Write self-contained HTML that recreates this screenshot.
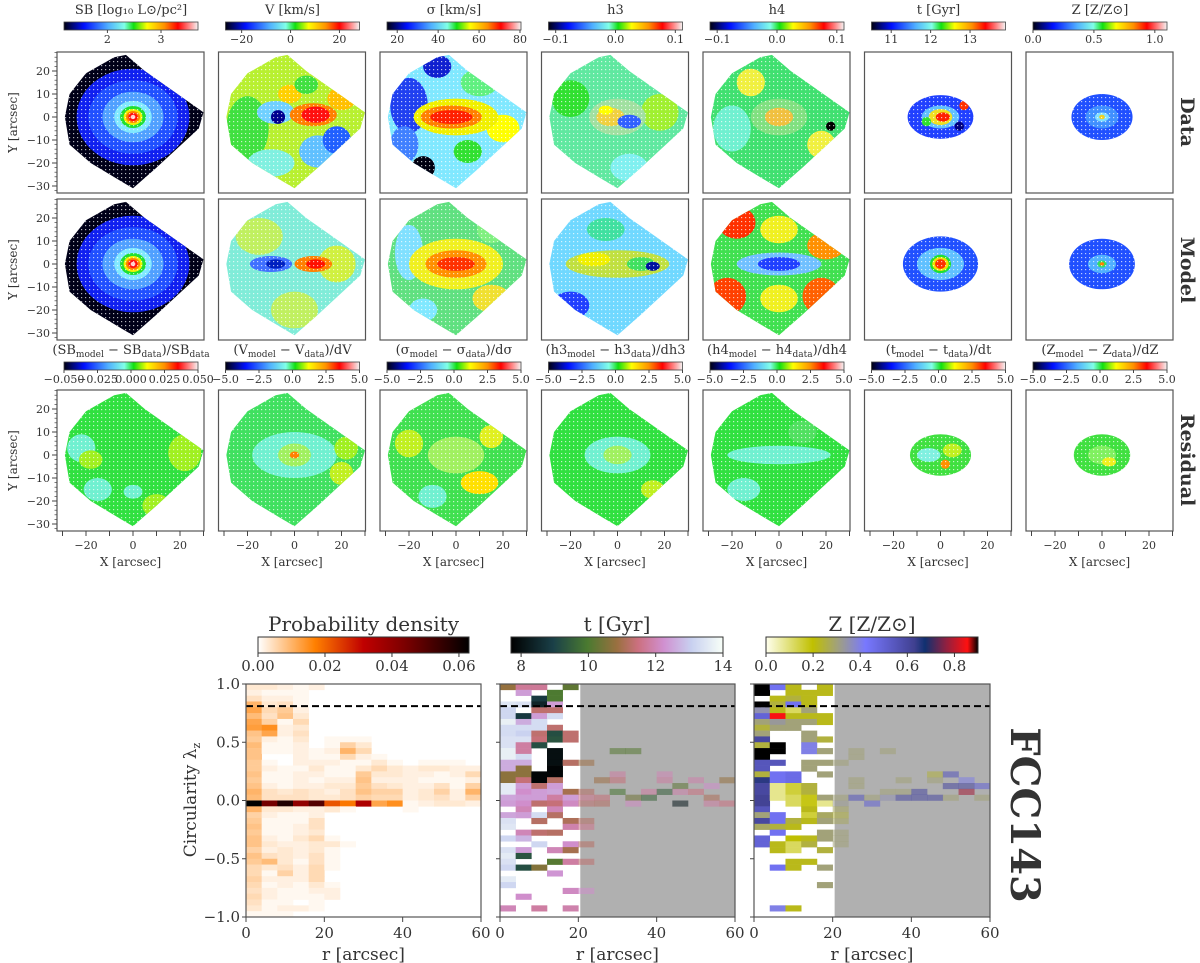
<!DOCTYPE html>
<html><head><meta charset="utf-8">
<style>
html,body{margin:0;padding:0;background:#fff;}
svg{display:block;}
text{font-family:"DejaVu Serif","Liberation Serif",serif;fill:#333;}
</style></head>
<body>
<svg id="fig" width="1200" height="963" viewBox="0 0 1200 963" xmlns="http://www.w3.org/2000/svg">
<defs>
<linearGradient id="gJet" x1="0" x2="1" y1="0" y2="0">
<stop offset="0" stop-color="#000010"/><stop offset="0.15" stop-color="#0010ff"/><stop offset="0.33" stop-color="#50b0ff"/><stop offset="0.45" stop-color="#80ffe8"/><stop offset="0.52" stop-color="#10e010"/><stop offset="0.62" stop-color="#ffff00"/><stop offset="0.75" stop-color="#ff9000"/><stop offset="0.85" stop-color="#ff0000"/><stop offset="0.94" stop-color="#ff9090"/><stop offset="1" stop-color="#f4f4f4"/>
</linearGradient>
<linearGradient id="gHeat" x1="0" x2="1" y1="0" y2="0">
<stop offset="0" stop-color="#ffffff"/><stop offset="0.27" stop-color="#ff8000"/><stop offset="0.5" stop-color="#c00000"/><stop offset="0.7" stop-color="#7a0000"/><stop offset="1" stop-color="#000000"/>
</linearGradient>
<linearGradient id="gAge" x1="0" x2="1" y1="0" y2="0">
<stop offset="0" stop-color="#000000"/><stop offset="0.2" stop-color="#1a4048"/><stop offset="0.36" stop-color="#4a7a30"/><stop offset="0.5" stop-color="#9a7040"/><stop offset="0.6" stop-color="#cc7080"/><stop offset="0.72" stop-color="#d090d0"/><stop offset="0.85" stop-color="#c8d0f0"/><stop offset="1" stop-color="#f8fff8"/>
</linearGradient>
<linearGradient id="gZ" x1="0" x2="1" y1="0" y2="0">
<stop offset="0" stop-color="#ffffee"/><stop offset="0.22" stop-color="#c0c000"/><stop offset="0.34" stop-color="#a0a080"/><stop offset="0.47" stop-color="#7878ff"/><stop offset="0.7" stop-color="#404090"/><stop offset="0.75" stop-color="#103070"/><stop offset="0.85" stop-color="#902040"/><stop offset="0.95" stop-color="#ff1010"/><stop offset="1" stop-color="#000000"/>
</linearGradient>
<pattern id="dots" width="4" height="4" patternUnits="userSpaceOnUse"><rect x="1" y="1" width="1.2" height="1.2" fill="#fff" opacity="0.7"/></pattern>
</defs>
</svg>
<script>
// ---------- bottom chart data ----------
// probability density (x1e-3), rows from lambda=1.0 downward (bin width 0.05), cols r=0..60 step 4
const densRows = [
[3,3,2,1,2],[2,1,1,1],[4,2,2,1],[10,3,4,1],[12,5,7,2],[9,4,8,3],[12,6,1,5],[13,15,2,3],[8,12,2,4],
[7,2,1,3,0,1,1,1],[9,1,1,2,0,1,6,3],[8,1,1,2,1,2,10,5],[8,0,0,2,1,1,5,2,1],
[7,1,0,2,2,2,1,1,3,1,0,1,1,1,0],[7,2,1,1,3,1,1,3,5,3,2,3,3,2,2],[8,1,1,2,2,1,1,7,3,3,2,2,1,2,5],
[7,1,1,2,1,2,2,8,2,2,2,1,1,1,2],[8,2,1,2,2,3,3,7,4,3,2,2,4,1,6],[10,4,3,4,3,2,4,8,6,6,2,3,6,2,10],
[9,4,4,4,3,3,4,6,5,5,2,3,4,2,6],
[63,45,58,40,50,22,18,35,12,15,1,2,3,3,2],
[10,3,3,2,2,3,1,0,0,0,1],[6,2,1,1,2,0],[7,1,1,1,4],[8,1,1,2,4],[7,1,1,2,3],[8,2,1,3,5,1],
[8,3,2,2,3,3,1],[6,2,3,2,3,1],[8,4,3,2,4,1],[7,9,3,1,4,1],[5,3,4,2,5,1],[5,1,6,2,5],[6,2,2,2,5],
[5,1,2,1,3,1],[4,2,1,1,2,2],[5,2,1,1,1,2],[4,1,1,0,1],[3,1,2,2,1],[1,1,1,0,0]
];
const rTicks = [0,20,40,60];
const lzTicks = [-1.0,-0.5,0.0,0.5,1.0];
const lzTickLabels = ["\u22121.0","\u22120.5","0.0","0.5","1.0"];
const densTicks = [0.00,0.02,0.04,0.06];
const densTickLabels = ["0.00","0.02","0.04","0.06"];
const ageTicks = [8,10,12,14];
const zTicks = [0.0,0.2,0.4,0.6,0.8];
const zTickLabels = ["0.0","0.2","0.4","0.6","0.8"];
const lzCut = 0.81;
const rMaskStart = 20.5;
// age cells: column (r bin of 4"), row (lambda bin from top), value (Gyr)
const tCol = [0,0,0,0,0,0,0,0,0,0,0,0,0,0,0,0,0,0,0,0,0,0,0,0,0,0,0,0,0,0,
1,1,1,1,1,1,1,1,1,1,1,1,1,1,1,1,1,1,1,1,1,1,1,1,1,1,1,
2,2,2,2,2,2,2,2,2,2,2,2,2,2,2,2,2,2,2,2,2,2,
3,3,3,3,3,3,3,3,3,3,3,3,3,3,3,3,3,3,3,3,3,3,3,3,
4,4,4,4,4,4,4,4,4,4,4,4,4,4,
5,5,5,5,5,5,5,5,5,6,6,6,7,7,7,7,8,8,8,9,9,10,10,10,11,11,11,12,12,13,13,13,14,14];
const tRow = [0,3,4,5,6,7,8,9,10,11,12,13,14,15,16,17,18,19,20,22,23,24,26,28,29,30,31,33,34,38,
0,1,3,5,6,7,8,9,10,11,12,13,14,15,16,17,18,19,20,21,22,25,26,28,29,31,36,
0,2,3,4,5,6,7,8,9,10,15,16,17,18,19,20,22,23,25,27,31,38,
1,2,3,4,5,7,8,9,11,12,13,14,15,16,17,18,19,20,21,22,25,28,30,32,
0,8,9,13,18,19,20,23,24,27,28,30,35,38,
13,18,19,20,23,24,27,30,35,16,19,20,11,15,16,18,19,20,11,18,19,15,16,18,17,18,20,16,18,17,19,20,16,20];
const tVal = [10.8,13.5,13.2,13.2,13.7,13.3,13.3,13.4,13.4,13.7,13.7,12.6,12.6,10.7,10.7,13.6,13.6,12.5,12.4,12.5,13.4,13.5,13.2,13.4,13.6,13.4,13.2,13.6,13.2,12.0,
11.7,12.4,13.4,8.8,12.6,13.3,13.1,13.4,11.8,11.8,13.3,12.6,10.7,10.7,11.4,12.4,12.2,12.4,12.2,12.0,12.4,12.0,12.7,12.4,9.3,9.2,12.2,
11.7,8.8,8.4,11.3,12.4,13.3,13.3,11.3,11.4,9.2,7.8,7.8,11.3,12.4,12.4,11.3,13.3,11.2,11.3,13.2,10.6,11.8,
10.0,10.0,12.4,11.3,13.3,11.3,9.2,9.3,8.0,8.0,8.0,7.8,7.8,11.2,12.4,12.5,11.8,11.4,12.0,11.2,11.2,12.0,10.1,12.3,
10.2,11.3,11.3,11.2,11.0,12.4,12.1,11.1,11.9,12.2,11.0,11.8,12.1,11.9,
10.9,11.2,11.6,11.3,11.2,11.6,11.2,11.3,12.2,10.9,11.4,11.2,10.1,11.8,11.4,9.9,10.4,12.1,10.1,11.8,9.6,12.0,11.8,9.5,10.2,11.9,8.2,11.9,11.5,12.2,11.1,11.8,10.8,11.5];
// metallicity cells
const zCol = [0,0,0,0,0,0,0,0,0,0,0,0,0,0,0,0,0,0,0,0,0,0,0,0,0,0,
1,1,1,1,1,1,1,1,1,1,1,1,1,1,1,1,1,1,1,1,1,1,1,
2,2,2,2,2,2,2,2,2,2,2,2,2,2,2,2,2,2,2,2,2,2,
3,3,3,3,3,3,3,3,3,3,3,3,3,3,3,3,3,3,3,3,3,3,
4,4,4,4,4,4,4,4,4,4,4,4,4,4,4,4,4,
5,5,5,5,5,5,5,5,5,6,6,6,6,6,7,7,8,8,8,9,9,9,10,10,11,11,11,12,12,12,13,13,13,14,14];
const zRow = [0,1,3,4,5,6,7,8,9,10,11,12,13,14,15,16,17,18,19,20,21,22,23,24,26,27,
0,2,3,4,5,6,7,10,11,13,15,16,17,18,19,22,23,24,25,27,28,31,38,
0,1,2,3,4,5,6,7,15,16,17,18,19,20,23,24,26,27,28,30,31,38,
1,2,3,4,5,6,8,9,10,11,13,14,17,18,19,20,21,22,23,26,27,30,
0,1,5,6,9,11,13,15,19,20,22,23,25,26,28,31,34,
13,19,20,21,22,23,25,26,27,11,12,16,17,19,19,20,11,18,19,16,18,19,18,19,15,16,19,15,17,19,16,17,18,17,19];
const zVal = [0.9,0.9,0.9,0.35,0.5,0.3,0.25,0.3,0.6,0.25,0.9,0.9,0.55,0.55,0.25,0.65,0.6,0.6,0.62,0.62,0.55,0.3,0.6,0.28,0.5,0.5,
0.45,0.22,0.25,0.22,0.85,0.33,0.3,0.9,0.9,0.55,0.45,0.45,0.08,0.08,0.08,0.45,0.45,0.25,0.45,0.22,0.22,0.45,0.4,
0.22,0.22,0.25,0.45,0.12,0.22,0.3,0.3,0.47,0.47,0.15,0.15,0.12,0.12,0.25,0.22,0.2,0.12,0.12,0.22,0.22,0.22,
0.22,0.22,0.22,0.3,0.22,0.3,0.3,0.3,0.4,0.4,0.3,0.3,0.25,0.25,0.18,0.18,0.22,0.15,0.22,0.22,0.25,0.22,
0.22,0.22,0.22,0.22,0.25,0.3,0.3,0.3,0.3,0.08,0.28,0.3,0.3,0.3,0.25,0.3,0.3,
0.3,0.3,0.32,0.28,0.25,0.28,0.3,0.3,0.3,0.3,0.3,0.3,0.3,0.55,0.3,0.5,0.3,0.3,0.35,0.3,0.3,0.6,0.6,0.6,0.25,0.3,0.6,0.55,0.6,0.3,0.4,0.6,0.78,0.5,0.3];
</script>
<script>
const NS="http://www.w3.org/2000/svg";
const svg=document.getElementById('fig');
function mk(tag,attrs,parent){const e=document.createElementNS(NS,tag);for(const k in attrs)e.setAttribute(k,attrs[k]);(parent||svg).appendChild(e);return e;}
function txt(x,y,s,size,anchor,parent,extra){const t=mk('text',Object.assign({x:x,y:y,'font-size':size,'text-anchor':anchor||'middle'},extra||{}),parent);t.textContent=s;return t;}
function hex(c){return [parseInt(c.slice(1,3),16),parseInt(c.slice(3,5),16),parseInt(c.slice(5,7),16)];}
function cmap(stops,f){f=Math.max(0,Math.min(1,f));for(let i=1;i<stops.length;i++){if(f<=stops[i][0]){const a=stops[i-1],b=stops[i];const t=(f-a[0])/(b[0]-a[0]||1);const A=hex(a[1]),B=hex(b[1]);return 'rgb('+A.map((v,j)=>Math.round(v+(B[j]-v)*t)).join(',')+')';}}return stops[stops.length-1][1];}
const heatStops=[[0,'#ffffff'],[0.27,'#ff8000'],[0.5,'#c00000'],[0.7,'#7a0000'],[1,'#000000']];
const ageStops=[[0,'#000000'],[0.2,'#1a4048'],[0.36,'#4a7a30'],[0.5,'#9a7040'],[0.6,'#cc7080'],[0.72,'#d090d0'],[0.85,'#c8d0f0'],[1,'#f8fff8']];
const zStops=[[0,'#ffffee'],[0.22,'#c0c000'],[0.34,'#a0a080'],[0.47,'#7878ff'],[0.7,'#404090'],[0.75,'#103070'],[0.85,'#902040'],[0.95,'#ff1010'],[1,'#000000']];

// ---------- map panels ----------
const PW=147,PH=141;
const colX=i=>57+161.5*i;
const rowY=[52,199,390];
const foot=[[-20,19],[-8,26],[-3,27],[5,20],[30,2],[28,-5],[10,-22],[0,-31],[-5,-28],[-18,-20],[-27,-12],[-29,0],[-27,10]];
const sbSpec={base:'#000018',p:[[0,0,24,21,'#1020f0'],[0,0,19,16,'#2050ff'],[0,0,13,11,'#50a0ff'],[0,0,8,7,'#80e8ff'],[0,0,5.5,4.8,'#20e030'],[0,0,4,3.5,'#f0f000'],[0,0,3,2.6,'#ff8000'],[0,0,2,1.8,'#ff1010'],[0,0,1,0.9,'#ffd0d0']]};
const specs=[
[ sbSpec,
 {base:'#b8f030',p:[[-20,-5,9,14,'#40e040'],[-10,-20,10,6,'#80f0e0'],[10,-15,8,7,'#60c0ff'],[18,-10,6,6,'#2060ff'],[-8,2,8,5,'#70d0ff'],[-7,0,3,3,'#000090'],[8,1,10,5,'#ff8000'],[9,1,6,3.5,'#ff1010'],[20,8,6,5,'#ffc000'],[-2,10,5,4,'#ffd000'],[5,14,5,4,'#40e040']]},
 {base:'#80e8ff',p:[[-20,5,8,12,'#2040f0'],[-22,-12,6,8,'#4080ff'],[-14,-22,5,5,'#000010'],[-8,22,6,5,'#1020d0'],[10,15,8,6,'#60f080'],[20,-5,7,6,'#ffff00'],[0,0,18,8,'#f0f000'],[-2,0,13,5,'#ff8000'],[-2,0,9,3,'#ff2000'],[5,-15,6,5,'#30e030']]},
 {base:'#60e8a0',p:[[-20,8,8,8,'#30e030'],[18,2,8,8,'#a0f030'],[5,-22,8,6,'#80f0f0'],[0,0,12,8,'#a0e0a0'],[-3,0,6,4,'#f0d040'],[5,-2,5,3,'#3060ff'],[-5,3,3,2,'#ffff00']]},
 {base:'#40e070',p:[[-12,15,6,6,'#f0f040'],[18,-12,6,6,'#f0f040'],[0,0,12,8,'#80e080'],[0,0,6,4,'#f0c040'],[22,-4,2,2,'#000000'],[-20,-5,8,10,'#70f0d0']]},
 {ell:[14,9.5],base:'#2040ff',p:[[0,0,8,5,'#60c0ff'],[0,0,5,3.5,'#f0e020'],[1,0,3,2,'#ff2000'],[-6,-2,2,2,'#30e030'],[8,-4,2,2,'#000080'],[10,5,2,2,'#ff3000']]},
 {ell:[13,10],base:'#2050ff',p:[[0,0,7,5,'#4090ff'],[0,0,3,2,'#80e0ff'],[0,0,1.2,1,'#f0d020']]}
],[
 sbSpec,
 {base:'#80ecd8',p:[[-15,12,10,8,'#c0f060'],[18,0,8,8,'#d0f040'],[0,-20,10,8,'#c0f060'],[-10,0,9,3.5,'#4070ff'],[-8,0,4,2,'#0020c0'],[8,0,8,3.5,'#ff8000'],[9,0,4,2,'#ff1000']]},
 {base:'#60e080',p:[[-20,5,6,12,'#80e0ff'],[15,15,6,6,'#80f080'],[0,0,20,11,'#f0f020'],[0,0,13,6,'#ff9000'],[0,0,8,3,'#ff3000'],[-14,-20,6,5,'#80e8ff'],[15,-15,8,6,'#f0e030']]},
 {base:'#70d8ff',p:[[-20,-18,8,6,'#2040ff'],[0,0,22,6,'#c0e040'],[-10,2,7,3,'#f0f000'],[10,0,6,3,'#40e060'],[15,-1,3,2,'#0010a0'],[-5,15,8,5,'#40e0a0']]},
 {base:'#40e050',p:[[-18,18,8,7,'#ff3000'],[-22,-14,8,8,'#ff4000'],[18,-14,8,8,'#ff6000'],[20,8,8,6,'#ff9000'],[0,0,18,5,'#70c0ff'],[0,0,9,3,'#2040ff'],[0,15,8,6,'#f0f020'],[0,-15,8,6,'#f0f020']]},
 {ell:[16,12],base:'#2050ff',p:[[0,0,10,7,'#60c0ff'],[0,0,4.5,4,'#20e030'],[0,0,3.5,3,'#f0e000'],[0,0,2.3,2.1,'#ff3000']]},
 {ell:[14,11],base:'#2050ff',p:[[0,0,6,4,'#50b0ff'],[0,0,2,1.6,'#30e060'],[0,0,1,0.8,'#ff8000']]}
],[
 {base:'#30e040',p:[[-22,3,6,6,'#70f0d0'],[-15,-15,6,5,'#70f0d0'],[0,-16,4,3,'#70f0d0'],[22,1,7,8,'#a0f020'],[-18,-2,5,4,'#a0f020'],[10,-22,6,5,'#a0f020']]},
 {base:'#40e060',p:[[0,0,18,10,'#70f0d0'],[0,0,7,5,'#a0f060'],[0,0,2,1.5,'#ff8000'],[20,-8,5,5,'#c0f020'],[22,3,5,5,'#a0f020']]},
 {base:'#40e050',p:[[0,0,12,8,'#a0f060'],[-20,5,6,6,'#c0f020'],[10,-12,8,5,'#ffe000'],[-10,-18,6,5,'#70f0d0'],[15,8,5,5,'#e0f020']]},
 {base:'#30e040',p:[[0,0,14,8,'#70f0d0'],[0,0,6,4,'#a0f060'],[15,-15,5,4,'#c0f020']]},
 {base:'#30e040',p:[[0,0,22,4,'#70f0d0'],[-15,-15,7,5,'#70f0d0'],[10,10,6,5,'#50e060']]},
 {ell:[13,9],base:'#40e040',p:[[-5,0,5,3,'#80f0e0'],[5,2,4,3,'#c0f020'],[2,-4,2,2,'#ff9000']]},
 {ell:[12,9],base:'#40e040',p:[[0,0,6,4,'#80f060'],[3,-3,3,2,'#f0f020']]}
]];
const cbDefs=[
 [{title:'SB [log\u2081\u2080 L\u2299/pc\u00b2]',min:1.19,max:3.69,ticks:[2,3],labels:['2','3']},
  {title:'V [km/s]',min:-26.6,max:28.2,ticks:[-20,0,20],labels:['\u221220','0','20']},
  {title:'\u03c3 [km/s]',min:15,max:80.5,ticks:[20,40,60,80],labels:['20','40','60','80']},
  {title:'h3',min:-0.112,max:0.112,ticks:[-0.1,0,0.1],labels:['\u22120.1','0.0','0.1']},
  {title:'h4',min:-0.112,max:0.112,ticks:[-0.1,0,0.1],labels:['\u22120.1','0.0','0.1']},
  {title:'t [Gyr]',min:10.5,max:13.9,ticks:[11,12,13],labels:['11','12','13']},
  {title:'Z [Z/Z\u2299]',min:0,max:1.1,ticks:[0,0.5,1.0],labels:['0.0','0.5','1.0']}],
 [{title:'(SB_model \u2212 SB_data)/SB_data',min:-0.05,max:0.05,ticks:[-0.05,-0.025,0,0.025,0.05],labels:['\u22120.050','\u22120.025','0.000','0.025','0.050']},
  {title:'(V_model \u2212 V_data)/dV'},{title:'(\u03c3_model \u2212 \u03c3_data)/d\u03c3'},{title:'(h3_model \u2212 h3_data)/dh3'},
  {title:'(h4_model \u2212 h4_data)/dh4'},{title:'(t_model \u2212 t_data)/dt'},{title:'(Z_model \u2212 Z_data)/dZ'}]
];
for(let i=1;i<7;i++){Object.assign(cbDefs[1][i],{min:-5,max:5,ticks:[-5,-2.5,0,2.5,5],labels:['\u22125.0','\u22122.5','0.0','2.5','5.0']});}

function titleText(x,y,s,parent){
  const t=mk('text',{x:x,y:y,'font-size':13,'text-anchor':'middle'},parent);
  const parts=s.split(/(_[a-z]+)/);
  parts.forEach(p=>{const ts=mk('tspan',{},t);if(p.startsWith('_')){ts.textContent=p.slice(1);ts.setAttribute('font-size',9);ts.setAttribute('dy',3);}else{ts.textContent=p;if(t.childNodes.length>1&&t.childNodes[t.childNodes.length-2].getAttribute('dy')==='3'){ts.setAttribute('dy',-3);}}});
  return t;
}
function colorbar(x,y,w,def,name,parent){
  const g=mk('g',{},parent);
  
  
  const tt=titleText(x+w/2,y-8,def.title,g);
  
  
  const r=mk('rect',{x:x,y:y,width:w,height:8,fill:'url(#gJet)',stroke:'#444','stroke-width':0.8},g);
  
  
  def.ticks.forEach((v,k)=>{const px=x+(v-def.min)/(def.max-def.min)*w;
    mk('line',{x1:px,x2:px,y1:y+8,y2:y+11,stroke:'#444'},g);
    const lt=txt(px,y+21,def.labels[k],11,'middle',g);
    
    });
}
const xmap=(x0,u)=>x0+76+u*2.35, ymap=(y0,v)=>y0+65-v*2.3;
const rowNames=['data','model','residual'];
const colNames=['sb','velocity','dispersion','h3','h4','age','metallicity'];
for(let r=0;r<3;r++){for(let c=0;c<7;c++){
  const x0=colX(c),y0=rowY[r],sp=specs[r][c];
  const g=mk('g',{});
  
  
  const cid='clip'+r+'_'+c;
  const cp=mk('clipPath',{id:cid},g);
  if(sp.ell){mk('ellipse',{cx:xmap(x0,0),cy:ymap(y0,0),rx:sp.ell[0]*2.35,ry:sp.ell[1]*2.3},cp);}
  else{mk('polygon',{points:foot.map(p=>xmap(x0,p[0])+','+ymap(y0,p[1])).join(' ')},cp);}
  const inner=mk('g',{'clip-path':'url(#'+cid+')'},g);
  mk('rect',{x:x0,y:y0,width:PW,height:PH,fill:sp.base},inner);
  sp.p.forEach(q=>{const e=mk('ellipse',{cx:xmap(x0,q[0]),cy:ymap(y0,q[1]),rx:q[2]*2.35,ry:q[3]*2.3,fill:q[4]},inner);
    
    });
  mk('rect',{x:x0,y:y0,width:PW,height:PH,fill:'url(#dots)'},inner);
  const fr=mk('rect',{x:x0,y:y0,width:PW,height:PH,fill:'none',stroke:'#555','stroke-width':1.2},g);
  
  
  if(c===0){ [-30,-20,-10,0,10,20].forEach(v=>{const py=ymap(y0,v);mk('line',{x1:x0-5,x2:x0,y1:py,y2:py,stroke:'#444'},g);
      const lb=txt(x0-7,py+4,v<0?'\u2212'+(-v):String(v),11,'end',g);
      
      });
    for(let v=-32;v<=28;v+=2){const py=ymap(y0,v);mk('line',{x1:x0-2.5,x2:x0,y1:py,y2:py,stroke:'#444','stroke-width':0.7},g);}
    const yl=txt(0,0,'Y [arcsec]',12,'middle',g,{transform:'translate('+(x0-40)+','+(y0+PH/2)+') rotate(-90)'});
    
    }
  if(r===2){ [-30,-20,-10,0,10,20,30].forEach(v=>{const px=xmap(x0,v);if(px<x0||px>x0+PW)return;mk('line',{x1:px,x2:px,y1:y0+PH,y2:y0+PH+5,stroke:'#444'},g);});
    [-20,0,20].forEach(v=>{const px=xmap(x0,v);const lb=txt(px,y0+PH+18,v<0?'\u2212'+(-v):String(v),11,'middle',g);
      
      });
    const xl=txt(x0+PW/2,y0+PH+35,'X [arcsec]',12,'middle',g);
    
    }
}}
for(let c=0;c<7;c++){colorbar(colX(c)+7,22,134,cbDefs[0][c],colNames[c]+'-colorbar');colorbar(colX(c)+7,362,134,cbDefs[1][c],colNames[c]+'-residual-colorbar');}
[['Data',122],['Model',270],['Residual',460]].forEach(a=>{const t=txt(0,0,a[0],19,'middle',null,{'font-weight':'bold',fill:'#000',transform:'translate(1181,'+a[1]+') rotate(90)'});
  
  });

// ---------- bottom panels ----------
const BY0=684,BY1=917;
const bPanels=[{x0:246,x1:481,name:'density-panel'},{x0:500,x1:735,name:'age-panel'},{x0:754,x1:990,name:'metallicity-panel'}];
const rScale=(p,r)=>p.x0+r/60*(p.x1-p.x0);
const lzScale=l=>BY0+(1-l)/2*(BY1-BY0);
bPanels.forEach((p,pi)=>{
  const g=mk('g',{});
  
  
  if(pi>0){const m=mk('rect',{x:rScale(p,rMaskStart),y:BY0,width:rScale(p,60)-rScale(p,rMaskStart),height:BY1-BY0,fill:'#b0b0b0'},g);
    
    }
  const bw=rScale(p,4)-rScale(p,0), bh=lzScale(0.95)-lzScale(1.0);
  if(pi===0){densRows.forEach((row,k)=>row.forEach((v,ci)=>{if(v<=0)return;
    const rc=mk('rect',{x:rScale(p,ci*4),y:lzScale(1-0.05*k),width:bw+0.3,height:bh+0.3,fill:cmap(heatStops,v*1e-3/0.063)},g);
    
    }));}
  if(pi===1){tCol.forEach((ci,i)=>{const rc=mk('rect',{x:rScale(p,ci*4),y:lzScale(1-0.05*tRow[i]),width:bw+0.3,height:bh+0.3,fill:cmap(ageStops,(tVal[i]-7.7)/(14-7.7)),opacity:ci>=5?0.55:1},g);
    
    });}
  if(pi===2){zCol.forEach((ci,i)=>{const rc=mk('rect',{x:rScale(p,ci*4),y:lzScale(1-0.05*zRow[i]),width:bw+0.3,height:bh+0.3,fill:cmap(zStops,zVal[i]/0.9),opacity:ci>=5?0.55:1},g);
    
    });}
  const dl=mk('line',{x1:p.x0,x2:p.x1,y1:lzScale(lzCut),y2:lzScale(lzCut),stroke:'#000','stroke-width':2,'stroke-dasharray':'7,4'},g);
  
  
  const fr=mk('rect',{x:p.x0,y:BY0,width:p.x1-p.x0,height:BY1-BY0,fill:'none',stroke:'#555','stroke-width':1.2},g);
  
  
  rTicks.forEach(v=>{const px=rScale(p,v);mk('line',{x1:px,x2:px,y1:BY1,y2:BY1+5,stroke:'#444'},g);
    const lb=txt(px,BY1+21,String(v),15,'middle',g);
    
    });
  lzTicks.forEach((v,k)=>{const py=lzScale(v);mk('line',{x1:p.x0-4,x2:p.x0,y1:py,y2:py,stroke:'#444'},g);
    if(pi===0){const lb=txt(p.x0-6,py+5,lzTickLabels[k],15,'end',g);
      
      }});
  const xl=txt((p.x0+p.x1)/2,BY1+43,'r [arcsec]',17,'middle',g);
  
  
});
const yt=mk('text',{'font-size':17,'text-anchor':'middle',transform:'translate(196,800) rotate(-90)'});


yt.textContent='Circularity \u03bb';
const yts=mk('tspan',{'font-size':11,dy:4},yt);yts.textContent='z';

function bottomCb(x0,x1,grad,min,max,ticks,labels,title,name){
  const g=mk('g',{});
  
  
  const t=txt((x0+x1)/2,631,title,20,'middle',g);
  
  
  mk('rect',{x:x0,y:637,width:x1-x0,height:16,fill:'url(#'+grad+')',stroke:'#333','stroke-width':1},g);
  ticks.forEach((v,k)=>{const px=x0+(v-min)/(max-min)*(x1-x0);mk('line',{x1:px,x2:px,y1:653,y2:657,stroke:'#333'},g);
    const lb=txt(px,671,labels[k],15,'middle',g);
    
    });
}
bottomCb(258,469,'gHeat',0,0.063,densTicks,densTickLabels,'Probability density','density-colorbar');
bottomCb(511,723,'gAge',7.7,14,ageTicks,ageTicks.map(String),'t [Gyr]','age-colorbar');
bottomCb(766,978,'gZ',0,0.9,zTicks,zTickLabels,'Z [Z/Z\u2299]','metallicity-colorbar');
const gal=txt(0,0,'FCC143',40,'middle',null,{'font-weight':'bold',fill:'#000',transform:'translate(1011,815) rotate(90)'});


</script>
</body></html>
